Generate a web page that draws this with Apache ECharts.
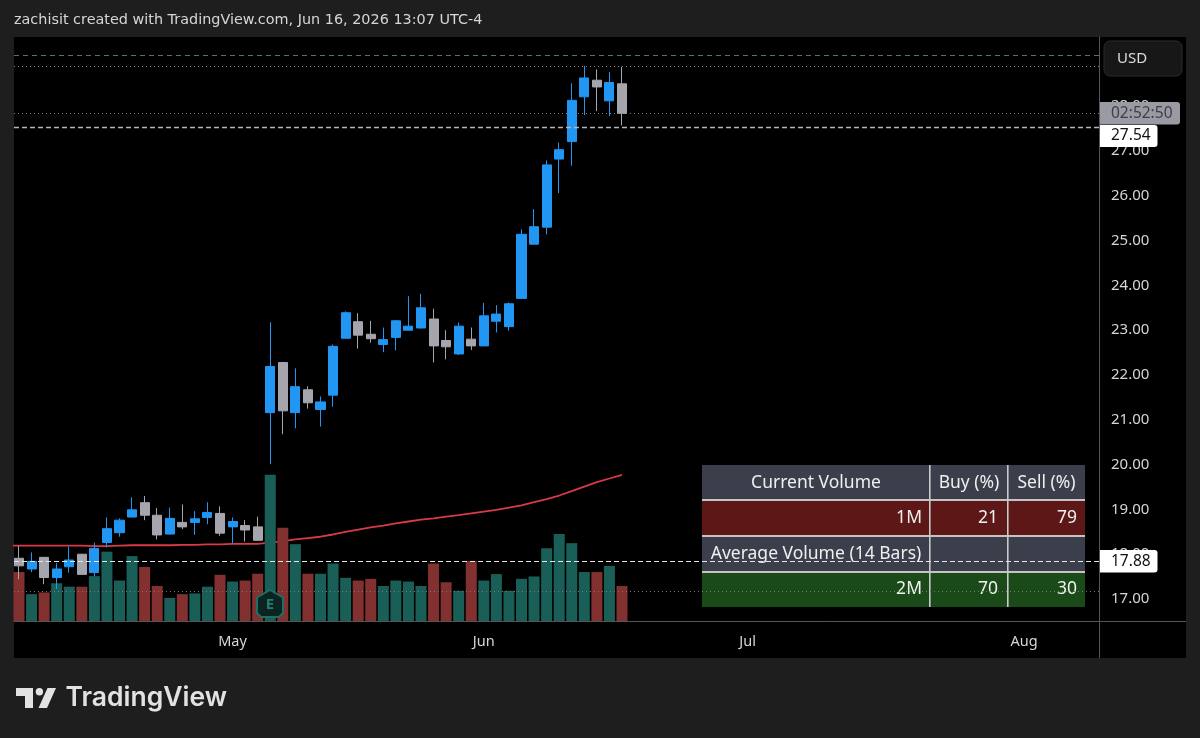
<!DOCTYPE html>
<html><head><meta charset="utf-8">
<style>html,body{margin:0;padding:0;background:#1e1e1e}#c{width:1200px;height:738px}</style>
<script src="https://cdn.jsdelivr.net/npm/echarts@6/dist/echarts.min.js"></script>
</head><body><div id="c"></div>
<script>
const opens  = [17.91,17.67,17.93,17.48,17.72,18.00,17.59,18.26,18.48,18.83,19.15,18.87,18.45,18.71,18.71,18.82,18.91,18.61,18.64,18.61,21.16,22.28,21.16,21.67,21.23,21.55,22.82,23.19,22.91,22.68,22.84,23.00,23.05,23.25,22.77,22.47,22.80,22.65,23.20,23.08,23.71,24.92,25.30,26.82,27.21,28.21,28.58,28.12,28.50];
const closes = [17.74,17.84,17.48,17.67,17.87,17.55,18.13,18.57,18.76,18.99,18.87,18.43,18.80,18.61,18.79,18.93,18.47,18.73,18.54,18.31,22.19,21.20,21.74,21.38,21.40,22.64,23.39,22.89,22.81,22.79,23.21,23.09,23.50,22.65,22.63,23.09,22.65,23.32,23.36,23.59,25.14,25.31,26.69,27.03,28.13,28.63,28.43,28.53,27.84];
const lows   = [17.44,17.60,17.33,17.22,17.59,17.55,17.51,18.15,18.39,18.82,18.76,18.33,18.44,18.56,18.43,18.67,18.41,18.24,18.28,18.30,20.01,20.68,20.81,21.25,20.85,21.29,22.82,22.59,22.72,22.51,22.55,23.00,23.04,22.28,22.35,22.45,22.56,22.65,22.95,22.99,23.71,24.92,25.14,26.06,26.67,27.80,27.89,27.78,27.57];
const highs  = [18.18,18.04,17.93,17.80,18.17,18.00,18.26,18.82,18.80,19.27,19.30,19.03,19.04,19.11,18.96,19.16,19.07,18.82,18.76,18.84,23.18,22.29,22.15,21.75,21.52,22.68,23.42,23.38,23.21,23.06,23.23,23.76,23.81,23.48,23.00,23.17,23.06,23.61,23.56,23.62,25.25,25.70,26.79,27.19,28.51,28.90,28.82,28.76,28.88];
const volumes = [1.44,.79,.84,1.11,1.01,1.01,1.32,2.04,1.19,1.91,1.59,1.03,.68,.79,.81,1.01,1.36,1.16,1.19,1.39,4.30,2.74,2.26,1.39,1.39,1.69,1.27,1.19,1.24,1.03,1.19,1.16,1.03,1.69,1.14,.89,1.76,1.19,1.38,.89,1.24,1.31,2.14,2.56,2.29,1.44,1.44,1.62,1.03];
const volumeUp = [0,1,0,1,1,0,1,1,1,1,0,0,1,0,1,1,0,1,0,0,1,0,1,0,1,1,1,0,0,1,1,1,1,0,0,1,0,1,1,1,1,1,1,1,1,1,0,1,0];
const maValues = [18.19,18.19,18.19,18.19,18.19,18.19,18.19,18.18,18.18,18.19,18.20,18.20,18.20,18.20,18.21,18.21,18.22,18.22,18.23,18.23,18.23,18.26,18.29,18.33,18.36,18.39,18.44,18.50,18.55,18.60,18.64,18.69,18.73,18.77,18.80,18.84,18.87,18.91,18.95,18.99,19.04,19.09,19.16,19.23,19.31,19.41,19.51,19.61,19.69,19.77];
const priceTicks = [17,18,19,20,21,22,23,24,25,26,27,28,29];
const monthTicks = [17,37,58,80];
const monthLabels = ['May','Jun','Jul','Aug'];
const tableRows = [['Current Volume','Buy (%)','Sell (%)'],['1M','21','79'],['Average Volume (14 Bars)','',''],['2M','70','30']];
const levelsBehind = [29.14,28.89,27.84,17.185];
const levelsFront = [27.54,17.84];

const FONT='"Noto Sans"';
const chart=echarts.init(document.getElementById('c'),null,{renderer:'canvas',width:1200,height:738});
const BLUE='#2196f3',GRAY='#a5a5ad',TEAL='#1a5f57',RED='#833030';
const barIdx=opens.map((_,i)=>i);

const g=[];
g.push({type:'rect',z:-10,shape:{x:14,y:37,width:1172,height:621},style:{fill:'#000'}});
g.push({type:'text',z:50,x:14,y:20,style:{text:'zachisit created with TradingView.com, Jun 16, 2026 13:07 UTC-4',fill:'#d6d6d6',font:'14.4px "DejaVu Sans"',textVerticalAlign:'middle'}});
// table (under the price lines)
const colX=[702,930,1008,1085],rowY=[465,500.5,536.5,572,607];
const rowFill=['#3b3f4b','#5e1717','#3b3f4b','#1a4a18'];
tableRows.forEach((r,ri)=>{
  g.push({type:'rect',z:1,shape:{x:colX[0],y:rowY[ri],width:colX[3]-colX[0],height:rowY[ri+1]-rowY[ri]},style:{fill:rowFill[ri]}});
  r.forEach((t,ci)=>{
    if(!t)return;
    let x,align;
    if(ri===0||(ri===2)){x=(colX[ci]+colX[ci+1])/2;align='center';}
    else{x=colX[ci+1]-(ci===1?10:8);align='right';}
    g.push({type:'text',z:1,x:x,y:(rowY[ri]+rowY[ri+1])/2,style:{text:t,fill:'#eef0ee',font:'17.5px '+FONT,textAlign:align,textVerticalAlign:'middle'}});
  });
});
[500,536,572].forEach(y=>g.push({type:'rect',z:1,shape:{x:702,y:y-1,width:383,height:2},style:{fill:'#c9c2c2'}}));
[930,1008].forEach(x=>g.push({type:'rect',z:1,shape:{x:x-1,y:465,width:1.6,height:142},style:{fill:'#c9c9cc'}}));
// right-hand panel pieces
g.push({type:'rect',z:40,shape:{x:1099,y:621,width:87,height:1},style:{fill:'#555'}});
g.push({type:'rect',z:40,shape:{x:1099,y:621,width:1,height:37},style:{fill:'#555'}});
g.push({type:'rect',z:60,shape:{x:1104,y:41,width:78,height:35,r:6},style:{fill:'#171717',stroke:'#2c2c2c',lineWidth:1}});
g.push({type:'text',z:61,x:1117,y:58.5,style:{text:'USD',fill:'#dcdcdc',font:'15px '+FONT,textVerticalAlign:'middle'}});
g.push({type:'rect',z:60,shape:{x:1100,y:102,width:80,height:22.5,r:[0,3,3,0]},style:{fill:'#9a9aa3'}});
g.push({type:'text',z:61,x:1111,y:113.5,style:{text:'02:52:50',fill:'#3c3f4a',font:'15.5px '+FONT,textVerticalAlign:'middle'}});
g.push({type:'rect',z:60,shape:{x:1100,y:125,width:57.5,height:22,r:[0,3,3,0]},style:{fill:'#fff'}});
g.push({type:'text',z:61,x:1111,y:136,style:{text:'27.54',fill:'#111',font:'15.5px '+FONT,textVerticalAlign:'middle'}});
g.push({type:'rect',z:60,shape:{x:1100,y:550,width:57.5,height:22.5,r:[0,3,3,0]},style:{fill:'#fff'}});
g.push({type:'text',z:61,x:1111,y:561.5,style:{text:'17.88',fill:'#111',font:'15.5px '+FONT,textVerticalAlign:'middle'}});
// earnings badge
g.push({type:'polygon',z:45,shape:{points:[[270,590],[283,597.5],[283,613],[279,617],[261,617],[257,613],[257,597.5]]},style:{fill:'#0b2321',stroke:'#1c6f62',lineWidth:2}});
g.push({type:'text',z:46,x:270,y:605,style:{text:'E',fill:'#23806f',font:'bold 15px '+FONT,textAlign:'center',textVerticalAlign:'middle'}});
// logo
g.push({type:'polygon',z:50,shape:{points:[[16,688],[33,688],[33,708],[25,708],[25,696],[16,696]]},style:{fill:'#e2e2e2'}});
g.push({type:'circle',z:50,shape:{cx:39.4,cy:691.8,r:3.7},style:{fill:'#e2e2e2'}});
g.push({type:'polygon',z:50,shape:{points:[[47.5,688],[56,688],[47,708],[38.5,708]]},style:{fill:'#e2e2e2'}});
g.push({type:'text',z:50,x:65.5,y:698,style:{text:'TradingView',fill:'#e2e2e2',font:'600 26.5px Inter',textVerticalAlign:'middle'}});

const lv=(v,color,type,w)=>({yAxis:v,lineStyle:{color:color,type:type,width:w}});
chart.setOption({
  animation:false,
  backgroundColor:'#1e1e1e',
  grid:{left:14,right:101,top:37,bottom:117,containLabel:false},
  xAxis:{type:'value',min:-0.398,max:85.97,splitLine:{show:false},
    axisLine:{show:true,onZero:false,lineStyle:{color:'#555',width:1}},axisTick:{show:false},
    axisLabel:{customValues:monthTicks,margin:13,color:'#d6d6d6',fontFamily:FONT,fontSize:14.5,
      formatter:v=>monthLabels[monthTicks.indexOf(Math.round(v))]||''}},
  yAxis:[
    {type:'value',position:'right',min:16.509,max:29.545,scale:true,splitLine:{show:false},
      axisLine:{show:true,onZero:false,lineStyle:{color:'#555',width:1}},axisTick:{show:false},
      axisLabel:{customValues:priceTicks,margin:12,color:'#d6d6d6',fontFamily:FONT,fontSize:15,padding:[5,0,0,0],formatter:v=>v.toFixed(2)}},
    {type:'value',min:0,max:17.18,show:false,splitLine:{show:false},axisLine:{show:false,onZero:false}}
  ],
  graphic:{elements:g},
  series:[
    {name:'MA',type:'line',z:1,symbol:'none',smooth:false,data:maValues.map((v,i)=>[i-1,v]),
      lineStyle:{color:'#d83a48',width:1.8},
      markLine:{silent:true,symbol:'none',animation:false,label:{show:false},data:[
        lv(levelsBehind[0],'#4f7a56',[5,4],1),
        lv(levelsBehind[1],'#808080',[1,3],1),
        lv(levelsBehind[2],'#808080',[1,3],1),
        lv(levelsBehind[3],'#777777',[1,3],1)]}},
    {name:'Volume',type:'bar',z:2,yAxisIndex:1,barWidth:11,
      data:volumes.map((v,i)=>({value:[i,v],itemStyle:{color:volumeUp[i]?TEAL:RED}}))},
    {name:'Price',type:'candlestick',z:3,barWidth:9.6,encode:{x:0,y:[1,2,3,4]},
      itemStyle:{color:BLUE,color0:GRAY,borderColor:BLUE,borderColor0:GRAY,borderWidth:1},
      data:barIdx.map(i=>[i,opens[i],closes[i],lows[i],highs[i]])},
    {name:'Levels',type:'line',z:4,symbol:'none',data:[],
      markLine:{silent:true,symbol:'none',animation:false,label:{show:false},data:[
        {yAxis:levelsFront[0],lineStyle:{color:'#b5b5b5',type:[5,3],width:1.3}},
        {yAxis:levelsFront[1],lineStyle:{color:'#e6e6e6',type:[5,3],width:1}}]}}
  ]
});
</script></body></html>
